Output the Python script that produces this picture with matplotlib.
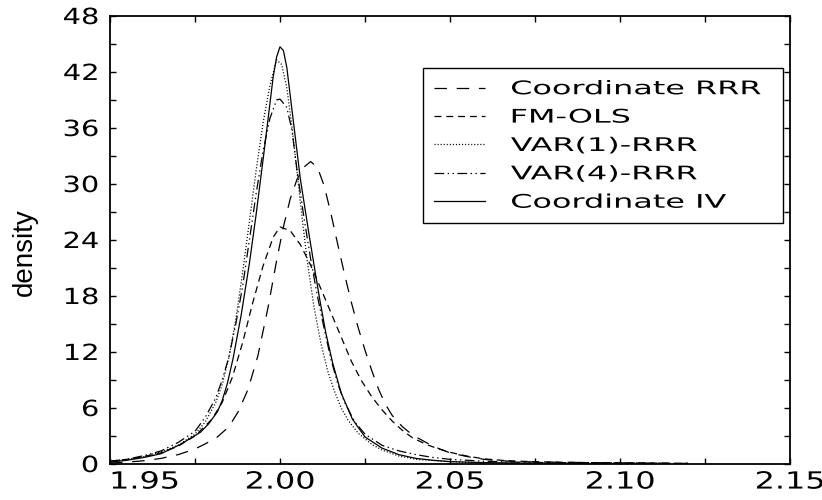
import matplotlib
matplotlib.use('Agg')
import matplotlib.pyplot as plt
import matplotlib.patheffects as pe
from matplotlib.transforms import Affine2D
from matplotlib.ticker import MultipleLocator, FormatStrFormatter

# ---------------- data ----------------
series_names = ["Coordinate RRR", "FM-OLS", "VAR(1)-RRR", "VAR(4)-RRR", "Coordinate IV"]

rrr_x = [1.950, 1.955, 1.960, 1.965, 1.970, 1.9746, 1.978, 1.9816, 1.985, 1.9877, 1.9906,
         1.9935, 1.9965, 1.999, 2.001, 2.003, 2.005, 2.007, 2.009, 2.011, 2.013, 2.015,
         2.017, 2.019, 2.021, 2.023, 2.025, 2.027, 2.029, 2.031, 2.033, 2.036, 2.039,
         2.043, 2.047, 2.050, 2.055, 2.060, 2.065, 2.070, 2.080, 2.090, 2.100, 2.110, 2.120]
rrr_y = [0.10, 0.20, 0.35, 0.60, 1.00, 1.55, 2.15, 2.90, 4.00, 5.60, 8.00,
         11.6, 16.8, 21.8, 25.4, 28.4, 30.5, 31.8, 32.4, 31.8, 29.8, 26.8,
         23.5, 20.3, 17.3, 14.6, 12.2, 10.0, 8.0, 6.4, 5.2, 4.0, 3.1,
         2.3, 1.6, 1.2, 0.8, 0.5, 0.35, 0.25, 0.20, 0.15, 0.12, 0.10, 0.06]

fm_x = [1.950, 1.955, 1.960, 1.965, 1.970, 1.975, 1.980, 1.983, 1.986, 1.989, 1.992, 1.995,
        1.998, 2.000, 2.003, 2.006, 2.009, 2.012, 2.015, 2.018, 2.021, 2.024, 2.027,
        2.030, 2.033, 2.036, 2.039, 2.043, 2.046, 2.050, 2.055, 2.060, 2.065, 2.070,
        2.080, 2.090, 2.100, 2.110, 2.120]
fm_y = [0.30, 0.50, 0.80, 1.20, 1.90, 3.00, 4.80, 6.60, 9.30, 13.0, 17.3, 21.2,
        24.3, 25.4, 25.0, 23.5, 21.3, 18.8, 16.2, 13.6, 11.0, 8.9, 7.2,
        5.8, 4.6, 3.6, 2.8, 2.1, 1.7, 1.25, 0.85, 0.55, 0.40, 0.30,
        0.20, 0.15, 0.12, 0.10, 0.08]

v1_x = [1.950, 1.955, 1.960, 1.965, 1.970, 1.975, 1.978, 1.981, 1.983, 1.985, 1.987, 1.989,
        1.991, 1.993, 1.995, 1.997, 1.999, 2.0005, 2.002, 2.0035, 2.005, 2.0065, 2.008,
        2.010, 2.012, 2.014, 2.016, 2.018, 2.020, 2.023, 2.027, 2.030, 2.035, 2.040,
        2.050, 2.060, 2.070]
v1_y = [0.30, 0.50, 0.80, 1.30, 2.00, 3.20, 4.50, 6.50, 8.50, 11.5, 15.5, 20.5,
        26.0, 31.5, 36.5, 40.5, 43.3, 42.8, 40.3, 36.2, 31.3, 26.4, 21.8,
        16.8, 13.0, 10.0, 7.8, 6.0, 4.7, 3.3, 2.1, 1.5, 0.85, 0.50,
        0.25, 0.12, 0.06]

v4_x = [1.950, 1.955, 1.960, 1.965, 1.970, 1.975, 1.978, 1.981, 1.983, 1.985, 1.987, 1.989,
        1.991, 1.993, 1.995, 1.997, 1.999, 2.000, 2.002, 2.0035, 2.005, 2.007, 2.009, 2.011,
        2.013, 2.015, 2.017, 2.019, 2.022, 2.025, 2.030, 2.035, 2.040, 2.045, 2.050, 2.060,
        2.070, 2.080, 2.090, 2.100, 2.110]
v4_y = [0.30, 0.50, 0.90, 1.40, 2.30, 3.50, 5.00, 7.00, 9.00, 11.5, 15.0, 19.0,
        24.0, 29.0, 33.5, 37.0, 39.0, 39.1, 38.2, 35.8, 31.5, 26.5, 22.0, 18.0,
        14.5, 11.2, 8.6, 6.6, 4.5, 3.2, 2.0, 1.4, 1.0, 0.7, 0.5, 0.3,
        0.2, 0.15, 0.15, 0.12, 0.10]

iv_x = [1.950, 1.955, 1.960, 1.965, 1.9707, 1.9766, 1.979, 1.9816, 1.983, 1.9845, 1.9862,
        1.9886, 1.991, 1.993, 1.9955, 1.998, 1.999, 2.000, 2.001, 2.002, 2.004, 2.006,
        2.0088, 2.0117, 2.0135, 2.0155, 2.018, 2.0213, 2.025, 2.030, 2.035, 2.040, 2.045,
        2.050, 2.060, 2.070, 2.080, 2.090, 2.100, 2.110]
iv_y = [0.20, 0.40, 0.70, 1.10, 2.10, 3.40, 4.30, 5.60, 6.80, 8.60, 11.3,
        16.0, 21.5, 26.8, 34.0, 41.5, 43.6, 44.7, 44.3, 42.5, 36.5, 30.5,
        24.0, 17.6, 14.0, 10.8, 7.6, 4.8, 2.9, 1.7, 1.0, 0.6, 0.4,
        0.25, 0.15, 0.10, 0.08, 0.06, 0.05, 0.03]

x_ticks = [1.95, 2.00, 2.05, 2.10, 2.15]
y_ticks = [0, 6, 12, 18, 24, 30, 36, 42, 48]

# ---------------- helpers ----------------
class HStretch(pe.AbstractPathEffect):
    """Stretch glyphs horizontally to mimic the wide plotter font."""
    def __init__(self, sx, anchor='center'):
        super().__init__()
        self.sx = sx
        self.anchor = anchor

    def draw_path(self, renderer, gc, tpath, affine, rgbFace=None):
        ext = tpath.get_extents()
        if self.anchor == 'center':
            cx = (ext.x0 + ext.x1) / 2
        elif self.anchor == 'right':
            cx = ext.x1
        else:
            cx = ext.x0
        t = Affine2D().translate(-cx, 0).scale(self.sx, 1).translate(cx, 0) + affine
        renderer.draw_path(gc, tpath, t, rgbFace)

plt.rcParams['lines.scale_dashes'] = False
plt.rcParams['font.family'] = ['DejaVu Sans']

fig = plt.figure(figsize=(8.22, 5.0), dpi=100)
ax = fig.add_axes([110 / 822, 36 / 500, 680 / 822, 448 / 500])

styles = [
    (0, (9, 7)),                    # Coordinate RRR - long dash
    (0, (5, 3.5)),                  # FM-OLS - short dash
    (0, (0.8, 1.4)),                # VAR(1)-RRR - dotted
    (0, (7, 2.5, 1, 2.5, 1, 2.5)),  # VAR(4)-RRR - dash dot dot
    '-',                            # Coordinate IV - solid
]
xs = [rrr_x, fm_x, v1_x, v4_x, iv_x]
ys = [rrr_y, fm_y, v1_y, v4_y, iv_y]

for name, x, y, ls in zip(series_names, xs, ys, styles):
    ax.plot(x, y, color='black', lw=0.9, linestyle=ls, label=name)

ax.set_xlim(1.95, 2.15)
ax.set_ylim(0, 48)
ax.set_xticks(x_ticks)
ax.set_yticks(y_ticks)
ax.xaxis.set_minor_locator(MultipleLocator(0.025))
ax.yaxis.set_minor_locator(MultipleLocator(3))
ax.xaxis.set_major_formatter(FormatStrFormatter('%.2f'))
ax.tick_params(which='both', direction='in', top=True, right=True,
               length=4, width=1, color='black')
ax.tick_params(axis='x', which='major', labelsize=17, pad=4)
ax.tick_params(axis='y', which='major', labelsize=16, pad=8)
for sp in ax.spines.values():
    sp.set_linewidth(1.3)
    sp.set_color('black')

xlabs = ax.get_xticklabels()
for i, lab in enumerate(xlabs):
    if i == 0:
        lab.set_horizontalalignment('left')
        lab.set_path_effects([HStretch(1.35, 'left')])
    else:
        lab.set_path_effects([HStretch(1.35, 'center')])
for lab in ax.get_yticklabels():
    lab.set_path_effects([HStretch(1.3, 'right')])

ax.set_ylabel('density', fontsize=20, family=['Liberation Sans', 'DejaVu Sans'])
ax.yaxis.set_label_coords(-0.106, 0.474)

leg = ax.legend(loc='upper left', bbox_to_anchor=(0.460, 0.884, 0.529, 0.0),
                mode='expand', fontsize=13.5, frameon=True, fancybox=False,
                framealpha=1, edgecolor='black', borderpad=0.6,
                handlelength=2.7, handletextpad=1.4, labelspacing=0.5,
                borderaxespad=0)
leg.get_frame().set_linewidth(1.0)
for t in leg.get_texts():
    t.set_path_effects([HStretch(1.7, 'left')])

fig.savefig('out.png', dpi=100)
